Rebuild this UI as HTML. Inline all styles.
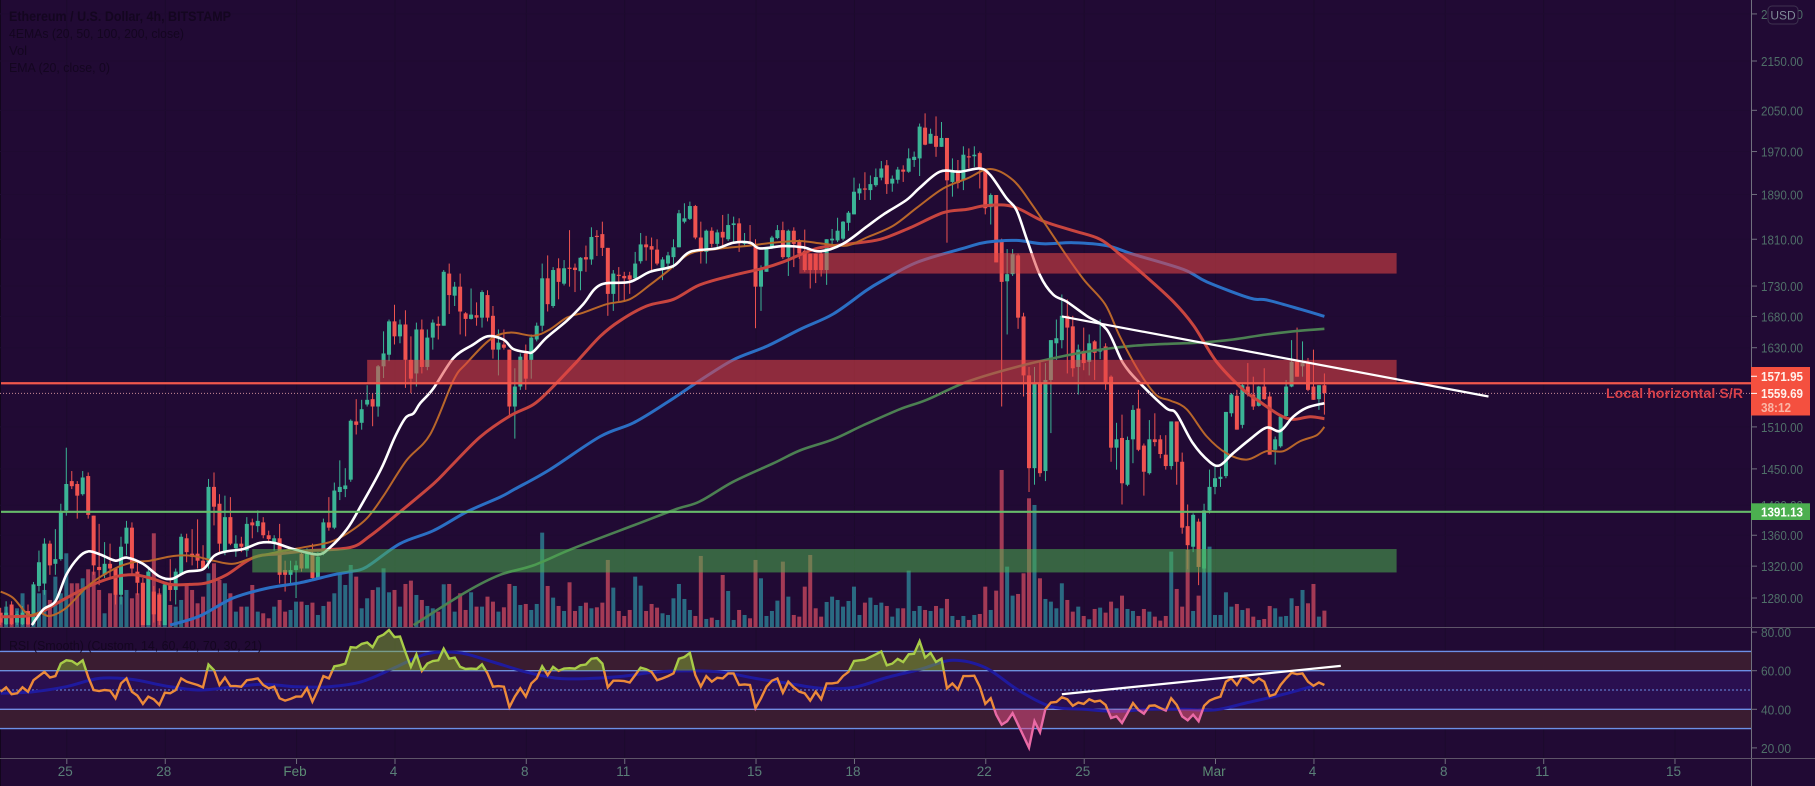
<!DOCTYPE html>
<html lang="en">
<head>
<meta charset="utf-8">
<title>Ethereum / U.S. Dollar chart</title>
<style>
html,body{margin:0;padding:0;background:#210a34;width:1815px;height:786px;overflow:hidden}
svg{display:block;font-family:"Liberation Sans",sans-serif}
</style>
</head>
<body>
<svg id="chart" xmlns="http://www.w3.org/2000/svg" width="1815" height="786" viewBox="0 0 1815 786">
  <defs>
    <clipPath id="clip-price"><rect x="0" y="0" width="1751" height="627"></rect></clipPath>
    <clipPath id="clip-rsi"><rect x="0" y="628" width="1751" height="130"></rect></clipPath>
    <clipPath id="clip-over"><rect id="over-rect" x="0" y="628" width="1751" height="42"></rect></clipPath>
    <clipPath id="clip-under"><rect id="under-rect" x="0" y="709" width="1751" height="49"></rect></clipPath>
    <clipPath id="clip-mid"><rect id="mid-rect" x="0" y="670" width="1751" height="39"></rect></clipPath>
  </defs>
  <rect x="0" y="0" width="1815" height="786" fill="#210a34"></rect>
  <rect x="0" y="0" width="1" height="786" fill="#12061c"></rect>
  <g id="layer-grid"></g>
  <g id="layer-price" clip-path="url(#clip-price)"></g>
  <g id="layer-rsi" clip-path="url(#clip-rsi)"></g>
  <g id="layer-axis"></g>
  <g fill="#140620" font-size="13">
    <text x="9" y="21" font-size="14" font-weight="bold" textLength="222" lengthAdjust="spacingAndGlyphs">Ethereum / U.S. Dollar, 4h, BITSTAMP</text>
    <text x="9" y="38" textLength="175" lengthAdjust="spacingAndGlyphs">4EMAs (20, 50, 100, 200, close)</text>
    <text x="9" y="55">Vol</text>
    <text x="9" y="72" textLength="101" lengthAdjust="spacingAndGlyphs">EMA (20, close, 0)</text>
    <text x="9" y="650" textLength="253" lengthAdjust="spacingAndGlyphs">RSI (Smooth) (Custom, 14, 60, 40, 70, 30, 21)</text>
  </g>
</svg>
<script>
const opens = [1262,1248,1272,1250,1248,1264,1248,1295,1298,1349,
1323,1329,1393,1433,1429,1415,1440,1386,1319,1309,
1323,1317,1284,1349,1370,1313,1299,1247,1288,1284,
1247,1297,1290,1309,1356,1336,1336,1327,1325,1425,
1402,1338,1384,1343,1349,1340,1377,1372,1377,1360,
1351,1356,1315,1309,1315,1336,1317,1336,1305,1338,
1377,1370,1418,1422,1435,1518,1516,1543,1551,1540,
1601,1619,1672,1648,1667,1611,1590,1659,1600,1646,
1668,1665,1751,1714,1729,1685,1676,1682,1678,1715,
1681,1627,1635,1627,1540,1570,1621,1611,1643,1665,
1743,1697,1760,1734,1761,1761,1755,1779,1775,1816,
1819,1795,1717,1749,1747,1748,1743,1772,1801,1798,
1792,1760,1768,1779,1796,1841,1846,1869,1813,1788,
1825,1802,1823,1810,1835,1838,1802,1804,1802,1729,
1754,1796,1812,1826,1779,1825,1807,1790,1785,1785,
1785,1757,1808,1808,1811,1839,1854,1892,1901,1898,
1907,1921,1944,1910,1917,1936,1932,1954,1957,2016,
1985,2000,1979,1996,1913,1935,1916,1961,1961,1967,
1938,1867,1889,1808,1738,1750,1782,1680,1587,1451,
1575,1447,1580,1637,1642,1681,1664,1600,1625,1608,
1640,1624,1632,1585,1480,1494,1428,1492,1537,1483,
1444,1492,1492,1470,1454,1518,1460,1372,1345,1378,
1317,1393,1425,1436,1440,1530,1556,1513,1570,1558,
1541,1570,1555,1477,1482,1526,1570,1608,1601,1606,
1570,1551,1572];
const highs = [1268,1276,1276,1264,1270,1272,1300,1340,1356,1353,
1368,1402,1480,1447,1433,1447,1445,1386,1375,1351,
1349,1317,1358,1379,1377,1325,1305,1320,1295,1292,
1300,1329,1317,1362,1362,1368,1381,1347,1436,1445,
1415,1413,1411,1360,1358,1384,1382,1393,1384,1366,
1360,1375,1327,1327,1327,1340,1343,1349,1338,1382,
1411,1431,1462,1451,1521,1551,1550,1572,1560,1603,
1656,1675,1699,1675,1690,1648,1670,1675,1659,1675,
1680,1757,1768,1737,1751,1687,1726,1703,1723,1723,
1697,1659,1659,1627,1598,1621,1635,1651,1670,1768,
1782,1762,1777,1774,1826,1768,1779,1799,1831,1826,
1841,1795,1757,1762,1754,1754,1788,1821,1816,1813,
1810,1779,1788,1810,1862,1874,1877,1871,1841,1827,
1831,1827,1853,1855,1850,1847,1821,1835,1810,1765,
1796,1816,1835,1841,1827,1831,1810,1827,1785,1785,
1788,1810,1828,1848,1842,1860,1921,1910,1931,1925,
1938,1952,1954,1925,1941,1944,1976,1970,2024,2044,
2014,2038,2027,1996,1957,1954,1980,1976,1980,1970,
1938,1892,1889,1811,1793,1793,1785,1686,1600,1600,
1608,1606,1642,1675,1716,1708,1681,1635,1662,1651,
1642,1675,1637,1587,1516,1528,1496,1542,1565,1486,
1520,1530,1498,1498,1518,1518,1473,1401,1389,1382,
1402,1449,1453,1451,1532,1560,1565,1575,1606,1585,
1571,1598,1562,1496,1528,1580,1642,1662,1640,1614,
1627,1572,1590];
const lows = [1247,1247,1247,1247,1247,1247,1247,1288,1284,1309,
1309,1327,1386,1422,1382,1413,1382,1309,1296,1305,
1303,1272,1272,1334,1309,1284,1247,1247,1250,1247,
1247,1276,1272,1309,1325,1321,1317,1317,1317,1373,
1338,1334,1347,1332,1338,1332,1356,1364,1356,1351,
1340,1298,1288,1297,1280,1313,1317,1303,1303,1334,
1366,1368,1407,1411,1432,1499,1506,1540,1511,1525,
1583,1609,1635,1637,1568,1560,1570,1590,1595,1627,
1643,1665,1684,1697,1651,1648,1675,1665,1662,1672,
1613,1587,1627,1525,1493,1565,1565,1582,1640,1656,
1688,1694,1708,1731,1729,1720,1723,1754,1766,1781,
1781,1681,1689,1705,1705,1717,1740,1768,1773,1757,
1765,1740,1757,1760,1796,1838,1844,1810,1768,1768,
1796,1796,1793,1807,1805,1788,1799,1799,1661,1689,
1754,1793,1810,1776,1747,1762,1776,1754,1726,1735,
1746,1732,1799,1805,1808,1825,1854,1880,1880,1880,
1904,1916,1891,1895,1910,1913,1930,1941,1924,1982,
1985,1960,1979,1804,1886,1901,1898,1938,1941,1901,
1854,1836,1770,1540,1651,1747,1660,1555,1418,1428,
1439,1433,1501,1611,1629,1590,1585,1558,1595,1587,
1580,1612,1565,1460,1449,1401,1426,1458,1475,1413,
1442,1482,1465,1449,1449,1428,1362,1316,1338,1296,
1312,1389,1415,1425,1437,1525,1506,1508,1555,1535,
1540,1550,1470,1456,1480,1525,1569,1585,1585,1563,
1550,1535,1528];
const closes = [1250,1262,1248,1260,1262,1248,1297,1325,1349,1321,
1329,1391,1429,1426,1413,1438,1387,1321,1315,1323,
1317,1284,1345,1370,1317,1299,1247,1313,1260,1252,
1297,1290,1313,1358,1338,1332,1327,1317,1425,1398,
1349,1384,1349,1349,1345,1375,1373,1379,1360,1355,
1356,1309,1309,1315,1321,1317,1336,1305,1332,1377,
1370,1420,1425,1427,1519,1513,1536,1550,1540,1601,
1621,1672,1648,1667,1611,1582,1659,1600,1646,1670,
1665,1754,1715,1729,1688,1676,1683,1678,1720,1678,
1627,1638,1630,1540,1570,1616,1582,1646,1665,1743,
1700,1757,1737,1760,1759,1757,1778,1775,1814,1815,
1795,1717,1751,1747,1743,1741,1768,1801,1796,1792,
1768,1775,1782,1796,1856,1847,1869,1813,1788,1825,
1802,1822,1813,1835,1838,1804,1807,1802,1729,1757,
1793,1813,1826,1779,1825,1802,1785,1757,1757,1757,
1757,1810,1811,1825,1841,1857,1895,1901,1900,1909,
1922,1938,1909,1919,1936,1932,1957,1960,2018,1983,
2004,1979,1996,1916,1935,1911,1964,1960,1964,1938,
1865,1889,1770,1737,1750,1784,1678,1587,1451,1575,
1444,1580,1642,1645,1681,1662,1598,1627,1606,1637,
1622,1627,1575,1480,1492,1430,1491,1535,1477,1446,
1492,1488,1471,1454,1518,1460,1370,1347,1387,1319,
1393,1425,1437,1439,1532,1558,1506,1572,1558,1540,
1570,1551,1470,1492,1525,1570,1608,1585,1606,1565,
1550,1572,1560];
const volumes = [32,62,62,57,102,37,127,102,112,82,
152,102,222,132,132,147,174,167,112,42,
102,172,92,112,87,102,132,167,282,102,
122,67,62,82,132,112,72,92,162,192,
142,132,102,47,62,62,127,47,42,27,
62,82,47,52,77,77,67,74,37,64,
77,102,162,127,187,152,57,87,112,120,
177,105,112,62,130,140,97,82,64,57,
47,129,130,47,102,52,105,62,62,92,
77,47,
60,130,124,67,70,52,70,284,124,89,
64,49,135,49,64,74,57,60,74,202,
119,49,34,52,152,125,49,70,59,42,
37,87,130,85,52,34,214,25,29,22,
157,109,22,52,37,27,202,147,34,49,
80,197,92,37,32,122,217,57,32,76,
92,82,62,79,122,37,74,89,67,74,
64,32,57,57,170,49,64,52,49,64,
57,85,34,22,34,22,37,40,122,52,110,
472,182,95,100,162,387,367,147,85,77,
57,132,82,47,62,34,24,55,59,44,
77,57,95,55,49,34,55,47,32,20,
34,227,115,62,232,49,95,212,242,37,
37,105,62,70,52,57,32,22,25,64,
57,32,34,87,64,112,72,130,32,50];
const rsiValues = [49.1,51.4,47.8,48.3,51.4,49.1,55.1,57.2,59.4,56.5,
57.2,63.7,65.4,65,63.2,65.4,56.8,50,49.5,50,
49.7,45.7,53.4,56,49.1,47.1,42.8,46.6,45.2,42.3,
48.6,48.3,50,56,54.3,53.4,52.6,51.4,63.2,60.3,
52.6,56.5,52,52,51.7,55.1,55.5,56,52.6,50.9,
51.7,45.7,44.5,45.4,46.6,46.6,50.9,44,50,57.2,
56,62.3,62.8,63.7,72.2,71.9,73.9,74.6,72.2,77.4,
78.7,81.1,77.4,77.7,69.7,62,68.5,59.9,63.7,65,
65.4,71.4,66.2,66.8,62,60.9,61.1,60.9,63.3,58.6,
51.7,52,
51.7,41.1,46.6,50.9,46.6,53.4,56,62.3,57.7,62,
59.9,61.1,61.3,61.1,62.8,63.2,66.2,66.6,63.7,51.4,
54.8,54.8,54.6,53.9,57.7,61.6,60.8,59.4,55.1,56,
57.2,58.6,66.2,67.1,69.2,57.7,51.7,57.2,54.3,56.3,
56,58.6,58.6,52.6,52.9,52.6,40.6,45.7,51.7,54.8,
56,48.6,54.3,51.4,49.1,48.3,44.5,49.1,45.2,53.4,
53.4,53.9,57.2,59.4,65,65.4,65.7,67.1,68.5,70,
62.8,63.7,66.1,64.5,68.5,68.8,75.3,66.8,69.2,64.5,
66.2,50.9,53.4,50.3,57.2,57.2,57.4,51.7,42.8,45.7,37.2,
32,33.8,38,32,26.1,20.1,33.8,28.1,40.1,43.5,
43.8,46.2,45.2,41.8,43.5,42.8,45.2,44,44.5,42.3,
35.5,36.3,32.9,38,43.2,39.7,37.7,41.8,42,40.6,
39.4,45.7,42.3,36.3,34.3,37.2,33.8,41.8,44.5,45.7,
46.6,54.3,56,52.6,57.2,56,53.8,56,54.3,46.9,
47.8,52.6,56,58.9,58.2,58.6,54.3,52.2,53.9,52.6];

const whiteBars = [5.7,7.8,10,12,14.2,16,18.2,21,23,26,29,31.3,34,37,39,41.3,44.4,47.4,50,53.5,58,60.2,63.3,65.7,69.5,72,74,75.5,76.7,79.1,82.8,86.4,89,91.9,93.7,96.2,97.4,99.8,103.5,106.5,109.6,115,118.7,123,126,130.9,134,137,138.8,143,146.7,149.8,154,158.3,161.4,165.6,168,171.7,175.4,179,180.9,183.9,185.7,187.6,190,192.4,194.9,198.5,202.2,205.2,208.3,213,214.9,217.9,221,222.9,225.3,228.4,231.4,233.9,236.3,238.7,242];
const whiteValues = [1247,1266,1276,1309,1331,1339,1335,1327,1331,1323,1307,1304,1313,1316,1333,1339,1342,1350,1350,1342,1335,1344,1368,1397,1449,1494,1523,1530,1545,1567,1614,1635,1648,1643,1628,1623,1624,1646,1673,1700,1732,1737,1754,1764,1788,1794,1804,1804,1794,1798,1796,1789,1802,1832,1854,1880,1902,1932,1932,1938,1926,1883,1862,1810,1748,1716,1704,1681,1659,1606,1575,1538,1530,1487,1460,1455,1472,1492,1509,1504,1525,1538,1545];
const orangeBars = [0,2.3,5,7.2,9,12,16.3,20.9,24.3,27.3,31.6,35.2,38.9,42.5,46.2,50.5,56,60.2,63.3,66.9,70,74.2,78.5,82.8,85.2,89.5,93.1,97.4,100.4,103.5,106.5,110.8,115,118.7,121.8,126,130.9,137,141.2,146.1,150.4,154.7,158.3,163.2,167.5,172.3,176.6,180.9,185.1,188.8,193.6,197.9,201.9,204.6,208.3,211.3,213.8,216.8,220.5,224.1,227.8,231.4,234.5,237.5,240.6,242];
const orangeValues = [1288,1280,1260,1262,1258,1268,1297,1317,1325,1327,1333,1333,1327,1323,1331,1338,1345,1351,1362,1382,1413,1462,1499,1580,1606,1643,1654,1649,1659,1678,1686,1700,1708,1732,1754,1785,1793,1799,1804,1807,1802,1799,1813,1834,1866,1901,1919,1937,1916,1868,1799,1742,1700,1648,1590,1557,1549,1536,1496,1472,1463,1475,1475,1489,1498,1510];
const redBars = [0,4.8,7.2,12,16.9,21.2,24.3,27.3,31,34.6,37.7,41.3,46.2,51,56.6,63.9,67.5,73,79.1,82.1,87.6,93.1,97.4,100.4,105.3,109.6,113.2,118.1,123,127.8,133.9,139.4,143.1,149.2,155.3,160.8,166.2,172.3,176.6,180.3,185.1,190.6,196.1,201,204.6,208.9,214.4,218.1,222.3,227.2,230.2,233.9,236.3,239.4,242];
const redValues = [1257,1258,1262,1280,1297,1307,1309,1305,1297,1297,1299,1309,1331,1336,1340,1344,1359,1391,1429,1452,1495,1526,1543,1565,1608,1648,1673,1697,1708,1732,1748,1760,1771,1794,1802,1810,1830,1857,1863,1870,1868,1842,1825,1810,1784,1750,1704,1665,1608,1565,1547,1527,1521,1525,1522];
const blueBars = [31,36.4,42.5,48.6,54.7,60.8,63.9,66.9,73,79.1,85.2,91.3,94,100.4,109.6,115.7,121.8,127.8,133.9,140,146.1,152.2,158.3,161.4,167.5,176.6,180.3,185.7,190.6,196.1,202.2,207,216.2,220.5,228.4,231.4,237.5,242];
const blueValues = [1247,1258,1280,1292,1299,1309,1313,1319,1349,1366,1391,1411,1422,1449,1496,1516,1546,1579,1611,1632,1659,1684,1723,1740,1770,1796,1805,1808,1802,1804,1799,1784,1758,1737,1710,1707,1692,1680];
const greenBars = [75.5,85.2,91.3,97.4,104.7,115.7,123.6,127.8,133.9,141.3,146.1,152.2,157.6,164.4,169.3,176.6,185.7,194.9,201,207,213.2,219.2,225.3,231.4,237.6,242];
const greenValues = [1247,1288,1309,1321,1343,1373,1395,1405,1432,1458,1476,1492,1512,1536,1550,1577,1600,1618,1627,1633,1636,1638,1643,1651,1657,1660];
const rsiEma = [48.3,49.1,51.7,56,55.5,52.2,50,51.4,53,51.7,51.7,54.3,61.5,68.8,69.2,64.5,59.4,56,56,57.2,59.4,59.9,59.2,56,53.4,50.9,51.4,56.5,60.6,65.4,61.6,50,41.5,40,38.9,40,40,39.7,43.5,47.4,52.1];
const rsiEmaBars = [0,6,12,18,24,30,36,42,48,54,60,66,72,78,84,90,96,102,108,114,120,126,132,138,144,150,156,162,168,174,180,186,192,198,204,210,216,222,228,234,240];
const priceTicks = [2250,2150,2050,1970,1890,1810,1730,1680,1630,1510,1450,1400,1360,1320,1280];
const rsiTicks = [80,60,40,20];
const rsiLevels = [70,60,40,30];
const dateLabels = ['25','28','Feb','4','8','11','15','18','22','25','Mar','4','8','11','15'];
const dateBars = [12,30,54,72,96,114,138,156,180,198,222,240,264,282,306];
const redZonePrices = [[1611,1575],[1786,1751]];
const redZoneStartBars = [67,146];
const greenZonePrices = [1342,1312];
const greenZoneStartBar = 46;
const zoneEndBar = 255.2;
const resistanceLevel = 1575;
const supportLevel = 1391.13;
const lastPrice = 1559.69;
const priceTrendBars = [194,272];
const priceTrendValues = [1680,1555];
const rsiTrendBars = [194,245];
const rsiTrendValues = [47.8,62.5];

const NS = 'http://www.w3.org/2000/svg';
const xBar = i => 0.66 + 5.47 * i;
const yPrice = p => 61 + (Math.log(2150) - Math.log(p)) * 1035.5;
const yVol = v => 627.3 - v / 3;
const yRsi = v => 690 - (v - 50) * 1.93;

function mk(tag, attrs, parent) {
  const e = document.createElementNS(NS, tag);
  for (const k in attrs) e.setAttribute(k, attrs[k]);
  parent.appendChild(e);
  return e;
}
function smoothPath(pts) {
  let d = 'M' + pts[0][0].toFixed(1) + ' ' + pts[0][1].toFixed(1);
  for (let i = 0; i < pts.length - 1; i++) {
    const p0 = pts[Math.max(i - 1, 0)], p1 = pts[i], p2 = pts[i + 1], p3 = pts[Math.min(i + 2, pts.length - 1)];
    const c1x = p1[0] + (p2[0] - p0[0]) / 6, c1y = p1[1] + (p2[1] - p0[1]) / 6;
    const c2x = p2[0] - (p3[0] - p1[0]) / 6, c2y = p2[1] - (p3[1] - p1[1]) / 6;
    d += 'C' + c1x.toFixed(1) + ' ' + c1y.toFixed(1) + ' ' + c2x.toFixed(1) + ' ' + c2y.toFixed(1) + ' ' + p2[0].toFixed(1) + ' ' + p2[1].toFixed(1);
  }
  return d;
}
const gridLayer = document.getElementById('layer-grid');
const priceLayer = document.getElementById('layer-price');
const rsiLayer = document.getElementById('layer-rsi');
const axisLayer = document.getElementById('layer-axis');

/* grid */
dateBars.forEach(b => {
  const gl = mk('line', {x1: xBar(b) + .5, x2: xBar(b) + .5, y1: 0, y2: 758, stroke: '#1c0a2c', 'stroke-width': 1}, gridLayer);
  
  
});
priceTicks.forEach(p => {
  const gl = mk('line', {x1: 0, x2: 1751, y1: yPrice(p), y2: yPrice(p), stroke: '#1f0a31', 'stroke-width': 1}, gridLayer);
  
  
});

/* volume */
volumes.forEach((v, i) => {
  const up = closes[i] >= opens[i];
  const b = mk('rect', {x: xBar(i) - 2, y: yVol(v), width: 4, height: 627.3 - yVol(v), fill: up ? '#2a6a82' : '#a33a55'}, priceLayer);
  
  
});

/* candles */
opens.forEach((o, i) => {
  const c = closes[i], up = c >= o, col = up ? '#3bb496' : '#ef5350';
  const g = mk('g', {}, priceLayer);
  
  
  const w = mk('line', {x1: xBar(i), x2: xBar(i), y1: yPrice(highs[i]), y2: yPrice(lows[i]), stroke: col, 'stroke-width': 1}, g);
  
  
  const top = yPrice(Math.max(o, c)), bot = yPrice(Math.min(o, c));
  const r = mk('rect', {x: xBar(i) - 2, y: top, width: 4, height: Math.max(bot - top, 1.2), fill: col}, g);
  
  
});

/* EMAs */
function emaPoints(bars, values) {
  return values.map((v, k) => [xBar(bars[k]), yPrice(v)]);
}
const greenLine = mk('path', {d: smoothPath(emaPoints(greenBars, greenValues)), fill: 'none', stroke: '#4c8052', 'stroke-width': 2.6}, priceLayer);


const blueLine = mk('path', {d: smoothPath(emaPoints(blueBars, blueValues)), fill: 'none', stroke: '#2b6fc4', 'stroke-width': 3}, priceLayer);


const redLine = mk('path', {d: smoothPath(emaPoints(redBars, redValues)), fill: 'none', stroke: '#c8453f', 'stroke-width': 3}, priceLayer);


const orangeLine = mk('path', {d: smoothPath(emaPoints(orangeBars, orangeValues)), fill: 'none', stroke: '#b8662a', 'stroke-width': 2}, priceLayer);


const whiteLine = mk('path', {d: smoothPath(emaPoints(whiteBars, whiteValues)), fill: 'none', stroke: '#ffffff', 'stroke-width': 2.6}, priceLayer);



/* zones */
redZonePrices.forEach((z, k) => {
  const r = mk('rect', {x: xBar(redZoneStartBars[k]), y: yPrice(z[0]), width: xBar(zoneEndBar) - xBar(redZoneStartBars[k]), height: yPrice(z[1]) - yPrice(z[0]), fill: 'rgba(229,69,69,0.56)'}, priceLayer);
  
  
});
const gz = mk('rect', {x: xBar(greenZoneStartBar), y: yPrice(greenZonePrices[0]), width: xBar(zoneEndBar) - xBar(greenZoneStartBar), height: yPrice(greenZonePrices[1]) - yPrice(greenZonePrices[0]), fill: 'rgba(76,175,80,0.55)'}, priceLayer);



/* horizontal levels */
const lastLine = mk('line', {x1: 0, x2: 1751, y1: yPrice(lastPrice), y2: yPrice(lastPrice), stroke: '#c98a96', 'stroke-width': 1, 'stroke-dasharray': '1 2'}, priceLayer);


const resLine = mk('line', {x1: 1, x2: 1751, y1: yPrice(resistanceLevel), y2: yPrice(resistanceLevel), stroke: '#f0584c', 'stroke-width': 2.2}, priceLayer);


const supLine = mk('line', {x1: 1, x2: 1751, y1: yPrice(supportLevel), y2: yPrice(supportLevel), stroke: '#66bb6a', 'stroke-width': 2.2}, priceLayer);



/* trendline */
const pTrend = mk('line', {x1: xBar(priceTrendBars[0]), x2: xBar(priceTrendBars[1]), y1: yPrice(priceTrendValues[0]), y2: yPrice(priceTrendValues[1]), stroke: '#ffffff', 'stroke-width': 2.2}, priceLayer);


const srText = mk('text', {x: 1606, y: 398, 'font-size': 14, 'font-weight': 'bold', fill: '#d8404a', textLength: 137, lengthAdjust: 'spacing'}, priceLayer);


srText.textContent = 'Local horizontal S/R';

/* RSI bands */
const band1 = mk('rect', {x: 0, y: yRsi(70), width: 1751, height: yRsi(60) - yRsi(70), fill: '#3a1c31'}, rsiLayer);


const band2 = mk('rect', {x: 0, y: yRsi(60), width: 1751, height: yRsi(40) - yRsi(60), fill: '#2a0f50'}, rsiLayer);


const band3 = mk('rect', {x: 0, y: yRsi(40), width: 1751, height: yRsi(30) - yRsi(40), fill: '#3a1c31'}, rsiLayer);


rsiLevels.forEach(l => {
  const ln = mk('line', {x1: 0, x2: 1751, y1: yRsi(l), y2: yRsi(l), stroke: '#6c8fe6', 'stroke-width': 1.4}, rsiLayer);
  
  
});
const midLn = mk('line', {x1: 0, x2: 1751, y1: yRsi(50), y2: yRsi(50), stroke: '#6c8fe6', 'stroke-width': 1, 'stroke-dasharray': '2 2'}, rsiLayer);



/* RSI clip rects follow the axis */
const overRect = document.getElementById('over-rect');
overRect.setAttribute('height', yRsi(60) - 628);
const underRect = document.getElementById('under-rect');
underRect.setAttribute('y', yRsi(40));
underRect.setAttribute('height', 758 - yRsi(40));
const midRect = document.getElementById('mid-rect');
midRect.setAttribute('y', yRsi(60));
midRect.setAttribute('height', yRsi(40) - yRsi(60));

const rsiEmaPts = rsiEma.map((v, k) => [xBar(rsiEmaBars[k]), yRsi(v)]);
const rsiEmaLine = mk('path', {d: smoothPath(rsiEmaPts), fill: 'none', stroke: '#1f1a9e', 'stroke-width': 3}, rsiLayer);



const rsiPts = rsiValues.map((v, i) => xBar(i).toFixed(1) + ',' + yRsi(v).toFixed(1));
const firstX = xBar(0).toFixed(1), lastX = xBar(rsiValues.length - 1).toFixed(1);
const overFill = mk('polygon', {points: firstX + ',' + yRsi(60) + ' ' + rsiPts.join(' ') + ' ' + lastX + ',' + yRsi(60), fill: 'rgba(130,170,50,0.5)', 'clip-path': 'url(#clip-over)'}, rsiLayer);


const underFill = mk('polygon', {points: firstX + ',' + yRsi(40) + ' ' + rsiPts.join(' ') + ' ' + lastX + ',' + yRsi(40), fill: 'rgba(235,80,135,0.5)', 'clip-path': 'url(#clip-under)'}, rsiLayer);


const rsiMid = mk('polyline', {points: rsiPts.join(' '), fill: 'none', stroke: '#ec8a3a', 'stroke-width': 2.4, 'clip-path': 'url(#clip-mid)'}, rsiLayer);


const rsiOver = mk('polyline', {points: rsiPts.join(' '), fill: 'none', stroke: '#a8cc48', 'stroke-width': 2.4, 'clip-path': 'url(#clip-over)'}, rsiLayer);


const rsiUnder = mk('polyline', {points: rsiPts.join(' '), fill: 'none', stroke: '#ea6aa6', 'stroke-width': 2.4, 'clip-path': 'url(#clip-under)'}, rsiLayer);


const rTrend = mk('line', {x1: xBar(rsiTrendBars[0]), x2: xBar(rsiTrendBars[1]), y1: yRsi(rsiTrendValues[0]), y2: yRsi(rsiTrendValues[1]), stroke: '#ffffff', 'stroke-width': 2.2}, rsiLayer);



/* axes */
const axisCol = '#70707e', tickCol = '#4f6f68';
const rightAxis = mk('line', {x1: 1751.5, x2: 1751.5, y1: 0, y2: 786, stroke: axisCol, 'stroke-width': 1}, axisLayer);


const paneSep = mk('line', {x1: 0, x2: 1815, y1: 627.5, y2: 627.5, stroke: '#5e5468', 'stroke-width': 1}, axisLayer);


const timeLine = mk('line', {x1: 0, x2: 1815, y1: 758.5, y2: 758.5, stroke: '#5e5468', 'stroke-width': 1}, axisLayer);



priceTicks.forEach(p => {
  const t = mk('line', {x1: 1752, x2: 1757, y1: yPrice(p), y2: yPrice(p), stroke: axisCol}, axisLayer);
  
  
  const l = mk('text', {x: 1761, y: yPrice(p) + 5, 'font-size': 13, fill: tickCol, textLength: 42, lengthAdjust: 'spacingAndGlyphs'}, axisLayer);
  
  
  l.textContent = p.toFixed(2);
});
rsiTicks.forEach(v => {
  const t = mk('line', {x1: 1752, x2: 1757, y1: yRsi(v), y2: yRsi(v), stroke: axisCol}, axisLayer);
  
  
  const l = mk('text', {x: 1761, y: yRsi(v) + 5, 'font-size': 13, fill: tickCol, textLength: 30, lengthAdjust: 'spacingAndGlyphs'}, axisLayer);
  
  
  l.textContent = v.toFixed(2);
});
dateBars.forEach((b, k) => {
  const t = mk('line', {x1: xBar(b) + .5, x2: xBar(b) + .5, y1: 759, y2: 764, stroke: axisCol}, axisLayer);
  
  
  const major = dateLabels[k] === 'Feb' || dateLabels[k] === 'Mar';
  const l = mk('text', {x: xBar(b) - 1, y: 776, 'font-size': 13.5, 'text-anchor': 'middle', fill: major ? '#5c8c74' : '#5a7f78'}, axisLayer);
  
  
  l.textContent = dateLabels[k];
});

/* USD badge */
const usdBox = mk('rect', {x: 1768, y: 6, width: 30, height: 18, rx: 4, fill: '#210a34', stroke: '#3e3350', 'stroke-width': 1}, axisLayer);


const usdText = mk('text', {x: 1783, y: 19.5, 'font-size': 12, 'text-anchor': 'middle', fill: '#7f8a96'}, axisLayer);


usdText.textContent = 'USD';

/* price labels */
const redTag = mk('rect', {x: 1751, y: 367, width: 59, height: 48.5, fill: '#f4503f'}, axisLayer);


const tagMarks = [yPrice(resistanceLevel) - 7, yPrice(lastPrice)];
tagMarks.forEach(y => {
  const t = mk('line', {x1: 1751, x2: 1757, y1: y, y2: y, stroke: '#ffffff'}, axisLayer);
  
  
});
const tagValues = ['1571.95', '1559.69'];
const tagOffsets = [381, 398];
tagValues.forEach((v, k) => {
  const l = mk('text', {x: 1761, y: tagOffsets[k], 'font-size': 13, 'font-weight': 'bold', fill: '#fff2ec', textLength: 42, lengthAdjust: 'spacingAndGlyphs'}, axisLayer);
  
  
  l.textContent = v;
});
const countdown = mk('text', {x: 1761, y: 412, 'font-size': 13, 'font-weight': 'bold', fill: '#fbb6a6', textLength: 30, lengthAdjust: 'spacingAndGlyphs'}, axisLayer);


countdown.textContent = '38:12';
const greenTag = mk('rect', {x: 1751, y: 503.3, width: 59, height: 16.7, fill: '#4caf50'}, axisLayer);


const greenTagText = mk('text', {x: 1761, y: 516.5, 'font-size': 13, 'font-weight': 'bold', fill: '#ffffff', textLength: 42, lengthAdjust: 'spacingAndGlyphs'}, axisLayer);


greenTagText.textContent = supportLevel.toFixed(2);
</script>
</body>
</html>
